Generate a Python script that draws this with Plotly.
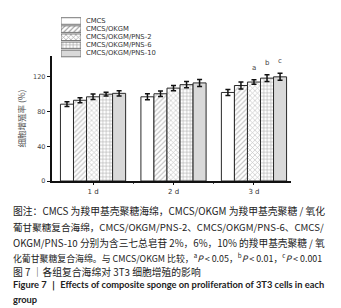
import plotly.graph_objects as go

# ---------------- data ----------------
days = ["1 d", "2 d", "3 d"]
series_names = ["CMCS", "CMCS/OKGM", "CMCS/OKGM/PNS-2", "CMCS/OKGM/PNS-6", "CMCS/OKGM/PNS-10"]
cmcs = [88.5, 97, 102]
cmcs_okgm = [93, 100.5, 110]
pns2 = [97, 107, 114]
pns6 = [100, 111, 118.5]
pns10 = [101, 113, 120]
err_cmcs = [2.8, 3.5, 3.5]
err_okgm = [2.8, 3.2, 4]
err_pns2 = [3.2, 3, 2.5]
err_pns6 = [2.2, 3.5, 4]
err_pns10 = [3, 4, 4]
sig_labels = ["", "", "a", "b", "c"]  # on 3 d group
y_ticks = [0, 40, 80, 120]

values = [cmcs, cmcs_okgm, pns2, pns6, pns10]
errors = [err_cmcs, err_okgm, err_pns2, err_pns6, err_pns10]

caption_lines = [
    "图注：CMCS 为羧甲基壳聚糖海绵，CMCS/OKGM 为羧甲基壳聚糖 / 氧化",
    "葡甘聚糖复合海绵，CMCS/OKGM/PNS-2、CMCS/OKGM/PNS-6、CMCS/",
    "OKGM/PNS-10 分别为含三七总皂苷 2%，6%，10% 的羧甲基壳聚糖 / 氧",
    "化葡甘聚糖复合海绵。与 CMCS/OKGM 比较，<sup>a</sup><i>P</i> < 0.05，<sup>b</sup><i>P</i> < 0.01，<sup>c</sup><i>P</i> < 0.001",
    "图 7 ｜各组复合海绵对 3T3 细胞增殖的影响",
]
caption_en = [
    "<b>Figure 7 ｜ Effects of composite sponge on proliferation of 3T3 cells in each</b>",
    "<b>group</b>",
]

# ---------------- styles ----------------
W, H = 341, 308
ML, MR, MT, MB = 44, 58, 5, 135
PW = W - ML - MR
PH = H - MT - MB

def px_x(px):
    return (px - ML) / PW

def px_y(py):
    return (H - MB - py) / PH

fills = ["#ffffff", "#ffffff", "#ffffff", "#ffffff", "#d9d9d9"]
shapes = ["", "/", "x", "+", ""]
fgs = ["#777777", "#8a8a8a", "#8a8a8a", "#6a6a6a", "#777777"]
edge = "#2a2a2a"
bargap = 0.19
nser = len(series_names)
slot = (1 - bargap) / nser

fig = go.Figure()
xs = list(range(len(days)))
for i, name in enumerate(series_names):
    fig.add_trace(go.Bar(
        x=xs, y=values[i], name=name, showlegend=False,
        marker=dict(color=fills[i], line=dict(color=edge, width=1),
                    pattern=dict(shape=shapes[i], fgcolor=fgs[i], bgcolor=fills[i],
                                 size=3.5, solidity=0.35, fillmode="overlay")),
        error_y=dict(type="data", array=errors[i], color="#111111", thickness=1.5, width=2.5),
    ))

# legend swatches drawn as a small inset bar trace
fig.add_trace(go.Bar(
    x=[1] * nser, y=series_names, orientation="h", xaxis="x2", yaxis="y2",
    showlegend=False, hoverinfo="skip",
    marker=dict(color=fills, line=dict(color="#777777", width=1),
                pattern=dict(shape=shapes, fgcolor=fgs, bgcolor=fills, size=3.5,
                             solidity=0.35, fillmode="overlay")),
))

annotations = []
for i, name in enumerate(series_names):
    annotations.append(dict(xref="x2", yref="y2", x=1, y=name, text=name, showarrow=False,
                            xanchor="left", yanchor="middle", xshift=3,
                            font=dict(family="DejaVu Sans", size=6.8, color="#333333")))

# significance letters over 3 d group
gi = 2
for i, lab in enumerate(sig_labels):
    if lab:
        xpos = gi + (i - (nser - 1) / 2) * slot
        annotations.append(dict(xref="x", yref="y", x=xpos, y=values[i][gi] + errors[i][gi],
                                text=lab, showarrow=False, yanchor="middle", yshift=12,
                                font=dict(family="DejaVu Sans", size=7, color="#444444")))

# caption
cap_y = [202.5, 218.5, 234.5, 249.5, 263.5]
cap_sizes = [9.8, 9.6, 9.7, 8.9, 9.8]
for t, py, fs in zip(caption_lines, cap_y, cap_sizes):
    annotations.append(dict(xref="paper", yref="paper", x=px_x(3), y=px_y(py), text=t,
                            showarrow=False, xanchor="left", yanchor="middle",
                            font=dict(family="Noto Sans CJK SC", size=fs, color="#222222")))
en_y = [277, 291]
for t, py in zip(caption_en, en_y):
    annotations.append(dict(xref="paper", yref="paper", x=px_x(3), y=px_y(py), text=t,
                            showarrow=False, xanchor="left", yanchor="middle",
                            font=dict(family="Lato", size=9.3, color="#222222")))

fig.update_layout(
    width=W, height=H,
    margin=dict(l=ML, r=MR, t=MT, b=MB, pad=0),
    paper_bgcolor="white", plot_bgcolor="white",
    barmode="group", bargap=bargap, bargroupgap=0,
    annotations=annotations,
    xaxis=dict(range=[-0.51, 2.46], tickvals=xs, ticktext=days, showline=True,
               linecolor="#111111", linewidth=1.5, ticks="outside", ticklen=2.5,
               tickcolor="#111111", tickwidth=1.2, showgrid=False, zeroline=False,
               tickfont=dict(family="DejaVu Sans", size=7, color="#333333"),
               minor=dict(tickvals=[0.5, 1.5], ticks="outside", ticklen=1.5,
                          tickcolor="#555555", tickwidth=1)),
    yaxis=dict(range=[0, 144], domain=[0, px_y(48)], tickvals=y_ticks, showline=True,
               linecolor="#111111", linewidth=1.5, ticks="outside", ticklen=3.5,
               tickcolor="#111111", tickwidth=1.2, showgrid=False, zeroline=False,
               tickfont=dict(family="DejaVu Sans", size=6.5, color="#444444"),
               title=dict(text="细胞增殖率 (%)", standoff=6,
                          font=dict(family="Noto Sans CJK SC", size=8.5, color="#555555"))),
    xaxis2=dict(domain=[px_x(53), px_x(73)], range=[0, 1], anchor="y2", visible=False,
                fixedrange=True),
    yaxis2=dict(domain=[px_y(51.5), px_y(7)], anchor="x2", visible=False,
                autorange="reversed", fixedrange=True),
)

fig.write_html("out.html")
